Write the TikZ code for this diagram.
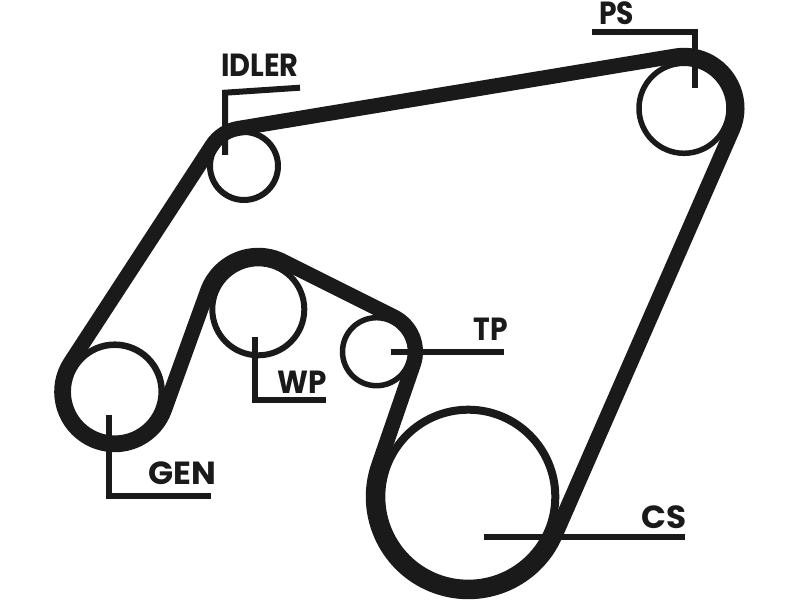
\documentclass[tikz,border=0pt]{standalone}
\usepackage{fontspec}
\setmainfont{Poppins}
\usetikzlibrary{calc}
\definecolor{ink}{HTML}{1A1A1A}
\tikzset{
	pulley/.style={draw=ink,circle,inner sep=0pt,outer sep=0pt},
	beltline/.style={draw=ink,line width=15pt,line join=round},
	leader/.style={draw=ink,line width=6pt,line cap=butt,line join=miter},
	tag/.style={text=ink,inner sep=0pt,anchor=base,font=\fontsize{32}{32}\selectfont\bfseries}
}
\begin{document}
\begin{tikzpicture}[x=1pt,y=1pt]
	\useasboundingbox (0,0) rectangle (800,600);
	% pulleys
	\path (684,491.7) node[pulley,line width=5.5pt,minimum size=90pt] (PS) {};
	\path (244,434) node[pulley,line width=6pt,minimum size=68pt] (IDLER) {};
	\path (114.7,208.3) node[pulley,line width=6.5pt,minimum size=94pt] (GEN) {};
	\path (258.3,290.7) node[pulley,line width=6pt,minimum size=92pt] (WP) {};
	\path (376.5,248.3) node[pulley,line width=5.5pt,minimum size=68pt] (TP) {};
	\path (468.3,103.3) node[pulley,line width=8pt,minimum size=174pt] (CS) {};
	% belt
	\draw[beltline] ($(PS.center)+(-23.63:53)$) arc[start angle=-23.63,end angle=99.41,radius=53pt]
		-- ($(IDLER.center)+(99.41:38)$) arc[start angle=99.41,end angle=146.89,radius=38pt]
		-- ($(GEN.center)+(146.89:53)$) arc[start angle=146.89,end angle=340.1,radius=53pt]
		-- ($(WP.center)+(160.1:54)$) arc[start angle=160.1,end angle=63.93,radius=54pt]
		-- ($(TP.center)+(63.93:39)$) arc[start angle=63.93,end angle=-18.96,radius=39pt]
		-- ($(CS.center)+(161.04:95)$) arc[start angle=161.04,end angle=336.37,radius=95pt]
		-- cycle;
	% labels
	\path (616.5,575) node[tag,xscale=.88] (tPS) {PS};
	\path (260,523.3) node[tag,xscale=.9] (tIDLER) {IDLER};
	\path (182.5,116) node[tag,xscale=1.03] (tGEN) {GEN};
	\path (302,206) node[tag,xscale=.92] (tWP) {WP};
	\path (491,259.3) node[tag,xscale=.88] (tTP) {TP};
	\path (664,72) node[tag,xscale=1.02] (tCS) {CS};
	% leaders
	\coordinate (aPS) at (694.7,512);
	\coordinate (bPS) at (694.7,567.7);
	\coordinate (cPS) at (591.7,567.7);
	\draw[leader] (aPS) -- (bPS) -- (cPS);
	\coordinate (aI) at (225,445);
	\coordinate (bI) at (225,507.3);
	\coordinate (cI) at (300,512.3);
	\draw[leader] (aI) -- (bI) -- (cI);
	\coordinate (aG) at (109,185);
	\coordinate (bG) at (109,104);
	\coordinate (cG) at (211,104);
	\draw[leader] (aG) -- (bG) -- (cG);
	\coordinate (aW) at (255,263.3);
	\coordinate (bW) at (255,200);
	\coordinate (cW) at (326,200);
	\draw[leader] (aW) -- (bW) -- (cW);
	\coordinate (aT) at (390.7,248.3);
	\coordinate (bT) at (504.3,248.3);
	\draw[leader] (aT) -- (bT);
	\coordinate (aC) at (484.3,63);
	\coordinate (bC) at (685,63);
	\draw[leader] (aC) -- (bC);
\end{tikzpicture}
\end{document}
